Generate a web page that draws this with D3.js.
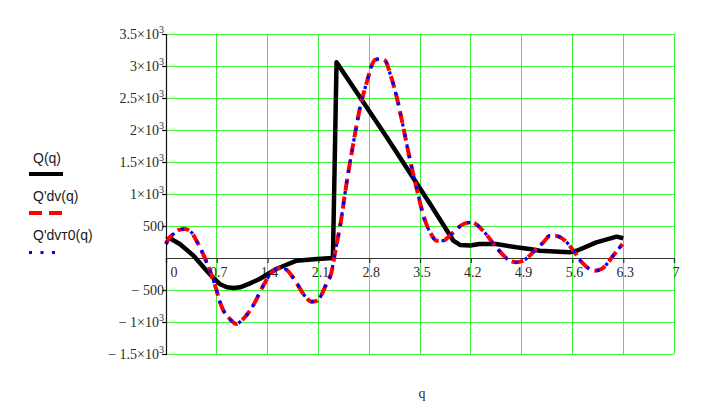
<!DOCTYPE html>
<html>
<head>
<meta charset="utf-8">
<script src="https://cdn.jsdelivr.net/npm/d3@7"></script>
<style>
  html, body { margin: 0; padding: 0; background: #fff; }
  svg { display: block; }
</style>
</head>
<body>
<svg id="chart" width="723" height="418"></svg>
<script>
// ---- data ----
const xTicks = [0, 0.7, 1.4, 2.1, 2.8, 3.5, 4.2, 4.9, 5.6, 6.3, 7];
const xTickLabels = ["0", "0.7", "1.4", "2.1", "2.8", "3.5", "4.2", "4.9", "5.6", "6.3", "7"];
const yTicks = [3500, 3000, 2500, 2000, 1500, 1000, 500, -500, -1000, -1500];
const yTickMain = ["3.5×10", "3×10", "2.5×10", "2×10", "1.5×10", "1×10", "500", "− 500", "− 1×10", "− 1.5×10"];
const yTickSup  = ["3", "3", "3", "3", "3", "3", "", "", "3", "3"];

const legendNames = ["Q(q)", "Q'dv(q)", "Q'dvт0(q)"];
const axisTitle = "q";

// Q(q)
const qQ = [0, 0.06, 0.19, 0.38, 0.56, 0.66, 0.74, 0.84, 0.93, 1.02, 1.15, 1.29, 1.52, 1.80, 2.08, 2.30,
            2.35, 3.04, 3.64, 3.96, 4.05, 4.19, 4.32, 4.55, 4.83, 5.01, 5.15, 5.56, 5.66, 5.93, 6.21, 6.30];
const vQ = [290, 305, 219, 36, -198, -320, -406, -458, -470, -458, -400, -328, -172, -42, -16, 0,
            3060, 1890, 845, 270, 205, 195, 219, 219, 167, 141, 114, 89, 114, 245, 333, 308];

// Q'dv(q)
const qDv = [0, 0.03, 0.10, 0.18, 0.26, 0.35, 0.42, 0.49, 0.56, 0.67, 0.77, 0.88, 0.97, 1.04, 1.20, 1.34,
             1.46, 1.55, 1.64, 1.78, 1.91, 2.01, 2.08, 2.21, 2.28, 2.33, 2.40, 2.49, 2.58, 2.67, 2.76,
             2.88, 2.95, 3.02, 3.09, 3.18, 3.27, 3.36, 3.45, 3.57, 3.64, 3.73, 3.82, 3.91, 4.10, 4.21,
             4.37, 4.55, 4.74, 4.83, 4.92, 5.08, 5.20, 5.29, 5.36, 5.50, 5.63, 5.73, 5.91, 6.00, 6.18, 6.29];
const vDv = [220, 290, 375, 440, 453, 401, 270, 114, -67, -406, -770, -953, -1031, -980, -745, -433,
             -223, -161, -172, -355, -589, -683, -667, -406, -223, 89, 505, 1183, 1781, 2328, 2719,
             3094, 3109, 3083, 2875, 2511, 2042, 1547, 1105, 583, 401, 270, 270, 349, 531, 557,
             427, 167, -42, -67, -42, 114, 245, 349, 349, 270, 89, -67, -198, -172, 63, 219];

// Q'dvт0(q)
const qDv0 = [0, 0.03, 0.10, 0.18, 0.26, 0.35, 0.42, 0.49, 0.56, 0.67, 0.77, 0.88, 0.97, 1.04, 1.20, 1.34,
              1.46, 1.55, 1.64, 1.78, 1.91, 2.01, 2.08, 2.21, 2.28, 2.33, 2.40, 2.49, 2.58, 2.67, 2.76,
              2.88, 2.95, 3.02, 3.09, 3.18, 3.27, 3.36, 3.45, 3.57, 3.64, 3.73, 3.82, 3.91, 4.10, 4.21,
              4.37, 4.55, 4.74, 4.83, 4.92, 5.08, 5.20, 5.29, 5.36, 5.50, 5.63, 5.73, 5.91, 6.00, 6.18, 6.29];
const vDv0 = [215, 285, 372, 438, 452, 400, 268, 112, -69, -408, -772, -955, -1030, -978, -743, -431,
              -221, -160, -171, -354, -588, -682, -666, -404, -221, 91, 507, 1185, 1783, 2330, 2720,
              3095, 3110, 3082, 2873, 2509, 2040, 1545, 1103, 581, 400, 269, 270, 350, 532, 557,
              426, 166, -43, -67, -41, 115, 246, 350, 349, 269, 88, -68, -198, -171, 64, 220];

// ---- layout ----
const svg = d3.select("#chart");
const x = d3.scaleLinear().domain([0, 7]).range([166, 674]);
const y = d3.scaleLinear().domain([-1500, 3500]).range([354, 34]);
const serif = "'Liberation Serif', 'Times New Roman', serif";
const sans = "'Liberation Sans', Arial, sans-serif";
const grid = "#3cf03c";

// grid lines
svg.append("g").selectAll("line.v").data(xTicks.filter(d => d > 0)).join("line")
  .attr("x1", d => x(d)).attr("x2", d => x(d))
  .attr("y1", y(3500)).attr("y2", y(-1500))
  .attr("stroke", grid).attr("stroke-width", 1).attr("shape-rendering", "crispEdges");
svg.append("g").selectAll("line.h").data(yTicks).join("line")
  .attr("x1", x(0)).attr("x2", x(7))
  .attr("y1", d => y(d)).attr("y2", d => y(d))
  .attr("stroke", grid).attr("stroke-width", 1).attr("shape-rendering", "crispEdges");

// x axis (at y = 0)
const xAxis = d3.axisBottom(x).tickValues(xTicks).tickSize(5).tickFormat("");
const gx = svg.append("g").attr("transform", `translate(0,${y(0)})`).call(xAxis);
gx.select(".domain").attr("stroke", "#333").attr("stroke-width", 1.2);
gx.selectAll(".tick line").attr("stroke", "#333").attr("stroke-width", 1.2);
svg.append("g").selectAll("text").data(xTicks).join("text")
  .attr("x", (d, i) => i === 0 ? x(d) + 8 : x(d) + 2)
  .attr("y", y(0) + 19)
  .attr("text-anchor", "middle")
  .attr("font-family", serif).attr("font-size", 14).attr("fill", "#2a2a2a")
  .text((d, i) => xTickLabels[i]);

// y axis (at x = 0)
const yAxis = d3.axisLeft(y).tickValues(yTicks).tickSize(4).tickFormat("");
const gy = svg.append("g").attr("transform", `translate(${x(0)},0)`).call(yAxis);
gy.select(".domain").attr("stroke", "#111").attr("stroke-width", 1.2);
gy.selectAll(".tick line").attr("stroke", "#111").attr("stroke-width", 1.2);
const yl = svg.append("g").selectAll("text").data(yTicks).join("text")
  .attr("x", 164)
  .attr("y", d => y(d) + 5)
  .attr("text-anchor", "end")
  .attr("font-family", serif).attr("font-size", 14).attr("fill", "#2a2a2a");
yl.append("tspan").text((d, i) => yTickMain[i]);
yl.append("tspan").attr("dy", -6).attr("font-size", 10).text((d, i) => yTickSup[i]);

// lines
const lineBlack = d3.line().x(d => x(d[0])).y(d => y(d[1]));
const lineSmooth = d3.line().x(d => x(d[0])).y(d => y(d[1])).curve(d3.curveMonotoneX);

svg.append("path").datum(qQ.map((q, i) => [q, vQ[i]]))
  .attr("d", lineBlack).attr("fill", "none").attr("stroke", "#000")
  .attr("stroke-width", 4.5).attr("stroke-linejoin", "round");
svg.append("path").datum(qDv.map((q, i) => [q, vDv[i]]))
  .attr("d", lineSmooth).attr("fill", "none").attr("stroke", "#ff0000")
  .attr("stroke-width", 4).attr("stroke-dasharray", "12,6");
svg.append("path").datum(qDv0.map((q, i) => [q, vDv0[i]]))
  .attr("d", lineSmooth).attr("fill", "none").attr("stroke", "#0000ff")
  .attr("stroke-width", 3.2).attr("stroke-dasharray", "3.2,7.5");

// legend
const leg = svg.append("g");
const legY = [163, 201, 240];
leg.selectAll("text").data(legendNames).join("text")
  .attr("x", 33).attr("y", (d, i) => legY[i])
  .attr("font-family", sans).attr("font-size", 14).attr("fill", "#1a1a1a")
  .text(d => d);
leg.append("line").attr("x1", 29).attr("x2", 63).attr("y1", 174).attr("y2", 174)
  .attr("stroke", "#000").attr("stroke-width", 4);
leg.append("line").attr("x1", 29).attr("x2", 63).attr("y1", 213).attr("y2", 213)
  .attr("stroke", "#ff0000").attr("stroke-width", 4).attr("stroke-dasharray", "13,7");
leg.append("line").attr("x1", 29).attr("x2", 63).attr("y1", 252.5).attr("y2", 252.5)
  .attr("stroke", "#0000ff").attr("stroke-width", 3).attr("stroke-dasharray", "3,8.5");

// axis title
svg.append("text").attr("x", 422).attr("y", 398).attr("text-anchor", "middle")
  .attr("font-family", serif).attr("font-size", 14).attr("fill", "#2a2a2a")
  .text(axisTitle);
</script>
</body>
</html>
